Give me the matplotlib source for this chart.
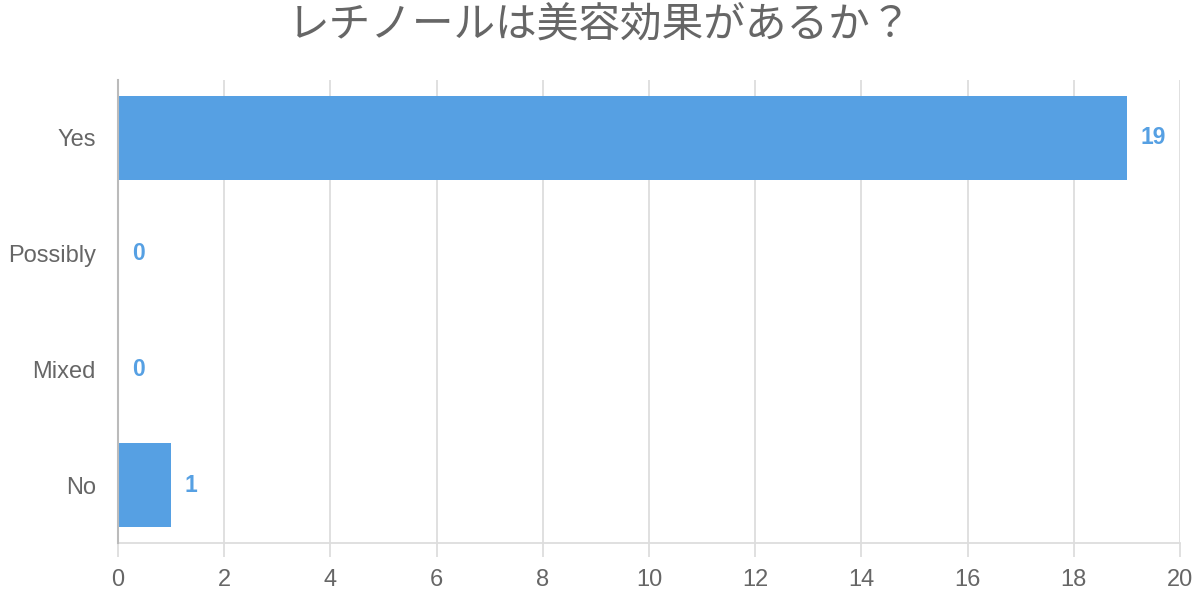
import matplotlib.pyplot as plt

plt.rcParams['font.family'] = ['Noto Sans CJK JP', 'DejaVu Sans']

# chart data
categories = ['Yes', 'Possibly', 'Mixed', 'No']
counts = [19, 0, 0, 1]
title = 'レチノールは美容効果があるか？'
bar_color = '#56a0e3'

fig = plt.figure(figsize=(12, 6), dpi=100)
ax = fig.add_axes([118 / 1200, 1 - 543 / 600, 1062 / 1200, 463 / 600])

ypos = list(range(len(categories)))[::-1]
ax.barh(ypos, counts, height=0.72, color=bar_color, zorder=3)

for y, v in zip(ypos, counts):
    ax.text(v + 0.26, y, str(v), va='center', ha='left', color=bar_color,
            fontsize=16.5, fontweight='bold', family=['Liberation Sans', 'DejaVu Sans'])

ax.set_xlim(0, 20)
ax.set_ylim(-0.5, len(categories) - 0.5)
ax.set_xticks(range(0, 21, 2))
ax.set_yticks(ypos)
ax.set_yticklabels(categories)

ax.grid(axis='x', color='#dddddd', linewidth=1.3, zorder=0)
for s in ['top', 'right']:
    ax.spines[s].set_visible(False)
ax.spines['left'].set_color('#bbbbbb')
ax.spines['left'].set_linewidth(1.5)
ax.spines['left'].set_zorder(4)
ax.spines['bottom'].set_color('#dddddd')
ax.spines['bottom'].set_linewidth(1.3)

ax.tick_params(axis='x', length=10, color='#dddddd', width=1.3, pad=9,
               labelsize=17, labelcolor='#666666')
ax.tick_params(axis='y', length=0, pad=16, labelsize=17, labelcolor='#666666')
for lab in ax.get_xticklabels() + ax.get_yticklabels():
    lab.set_family(['Liberation Sans', 'DejaVu Sans'])

fig.text(0.5, 1 - 25 / 600, title, ha='center', va='center',
         fontsize=30, color='#666666')

fig.savefig('out.png', dpi=100)
